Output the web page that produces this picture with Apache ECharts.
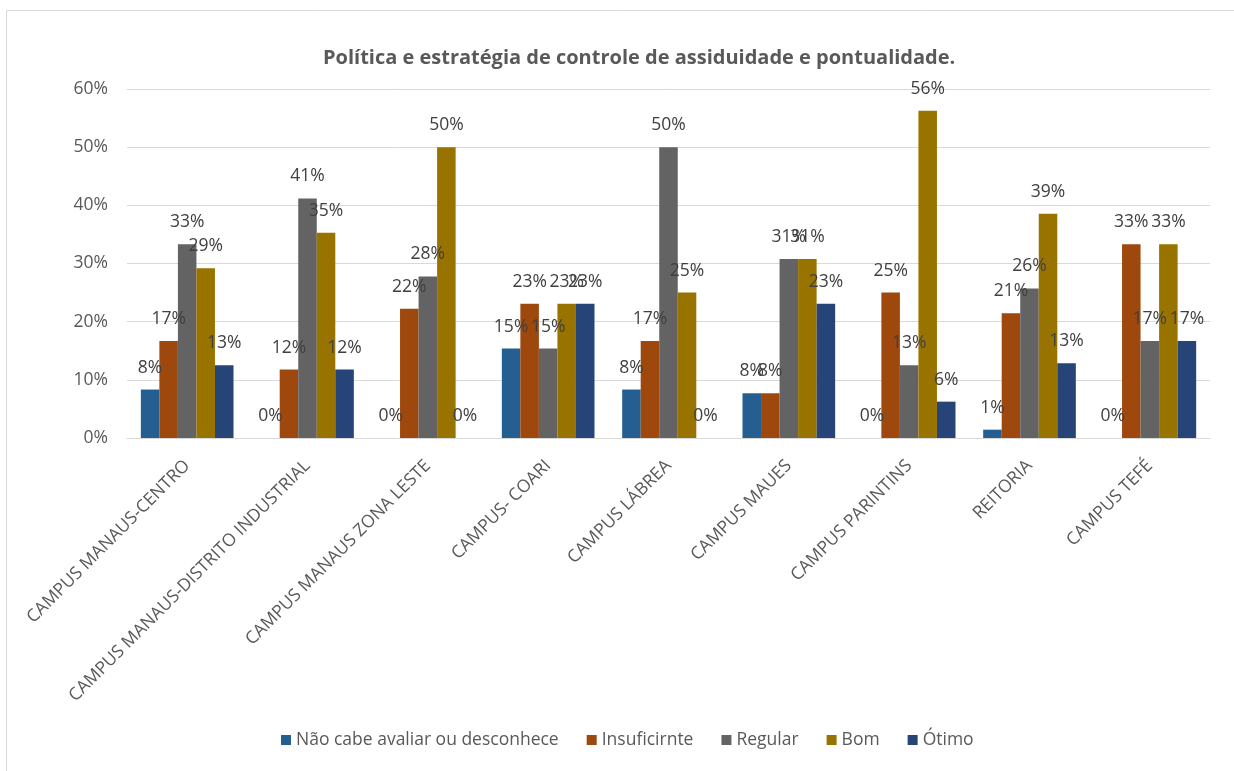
<!DOCTYPE html>
<html>
<head>
<meta charset="utf-8">
<script src="https://cdn.jsdelivr.net/npm/echarts@6/dist/echarts.min.js"></script>
<style>
html,body{margin:0;padding:0;background:#fff;}
#chart{width:1234px;height:771px;}
</style>
</head>
<body>
<div id="chart"></div>
<script>
const title = 'Política e estratégia de controle de assiduidade e pontualidade.';
const categories = ['CAMPUS MANAUS-CENTRO','CAMPUS MANAUS-DISTRITO INDUSTRIAL','CAMPUS MANAUS ZONA LESTE','CAMPUS- COARI','CAMPUS LÁBREA','CAMPUS MAUES','CAMPUS PARINTINS','REITORIA','CAMPUS TEFÉ'];
const seriesNames = ['Não cabe avaliar ou desconhece','Insuficirnte','Regular','Bom','Ótimo'];
const naoCabe    = [8.33, 0, 0, 15.38, 8.33, 7.69, 0, 1.43, 0];
const insuficiente = [16.67, 11.76, 22.22, 23.08, 16.67, 7.69, 25, 21.43, 33.33];
const regular    = [33.33, 41.18, 27.78, 15.38, 50, 30.77, 12.5, 25.71, 16.67];
const bom        = [29.17, 35.29, 50, 23.08, 25, 30.77, 56.25, 38.57, 33.33];
const otimo      = [12.5, 11.76, 0, 23.08, 0, 23.08, 6.25, 12.86, 16.67];
const yTicks = [0, 10, 20, 30, 40, 50, 60];
const colors = ['#255E91','#9E480E','#636363','#997300','#264478'];
const FONT = 'Open Sans';

const seriesData = [naoCabe, insuficiente, regular, bom, otimo];
const chart = echarts.init(document.getElementById('chart'), null, {renderer:'canvas'});
chart.setOption({
  animation:false,
  backgroundColor:'#fff',
  color: colors,
  textStyle:{fontFamily:FONT},
  title:{
    text:title, left:318, top:43,
    textStyle:{fontFamily:FONT, fontSize:20, fontWeight:'bold', color:'#595959'}
  },
  graphic:[{type:'rect', shape:{x:6.5,y:10.5,width:1300,height:900}, style:{fill:null, stroke:'#d9d9d9', lineWidth:1}, silent:true}],
  legend:{
    bottom:17, left:276, itemWidth:10, itemHeight:10, itemGap:28, icon:'rect',
    textStyle:{fontFamily:FONT, fontSize:17.5, color:'#595959', padding:[0,0,0,0]},
    data:seriesNames
  },
  grid:{left:127, right:24, top:89, bottom:333, containLabel:false},
  xAxis:{
    type:'category', data:categories,
    axisLine:{show:true, lineStyle:{color:'#d9d9d9', width:1}},
    axisTick:{show:false},
    axisLabel:{rotate:45, interval:0, fontFamily:FONT, fontSize:17.5, color:'#595959', margin:25}
  },
  yAxis:{
    type:'value', min:yTicks[0], max:yTicks[yTicks.length-1], interval:10,
    axisLine:{show:false}, axisTick:{show:false},
    splitLine:{lineStyle:{color:'#d9d9d9', width:1}},
    axisLabel:{formatter:'{value}%', fontFamily:FONT, fontSize:17.5, color:'#595959', margin:19}
  },
  series: seriesNames.map((n,i)=>({
    name:n, type:'bar', data:seriesData[i], barGap:'0%', barCategoryGap:'23%',
    itemStyle:{color:colors[i]},
    label:{show:true, position:'top', distance:13, formatter:p=>Math.round(p.value)+'%', fontFamily:FONT, fontSize:17.5, color:'#404040'}
  }))
});
</script>
</body>
</html>
